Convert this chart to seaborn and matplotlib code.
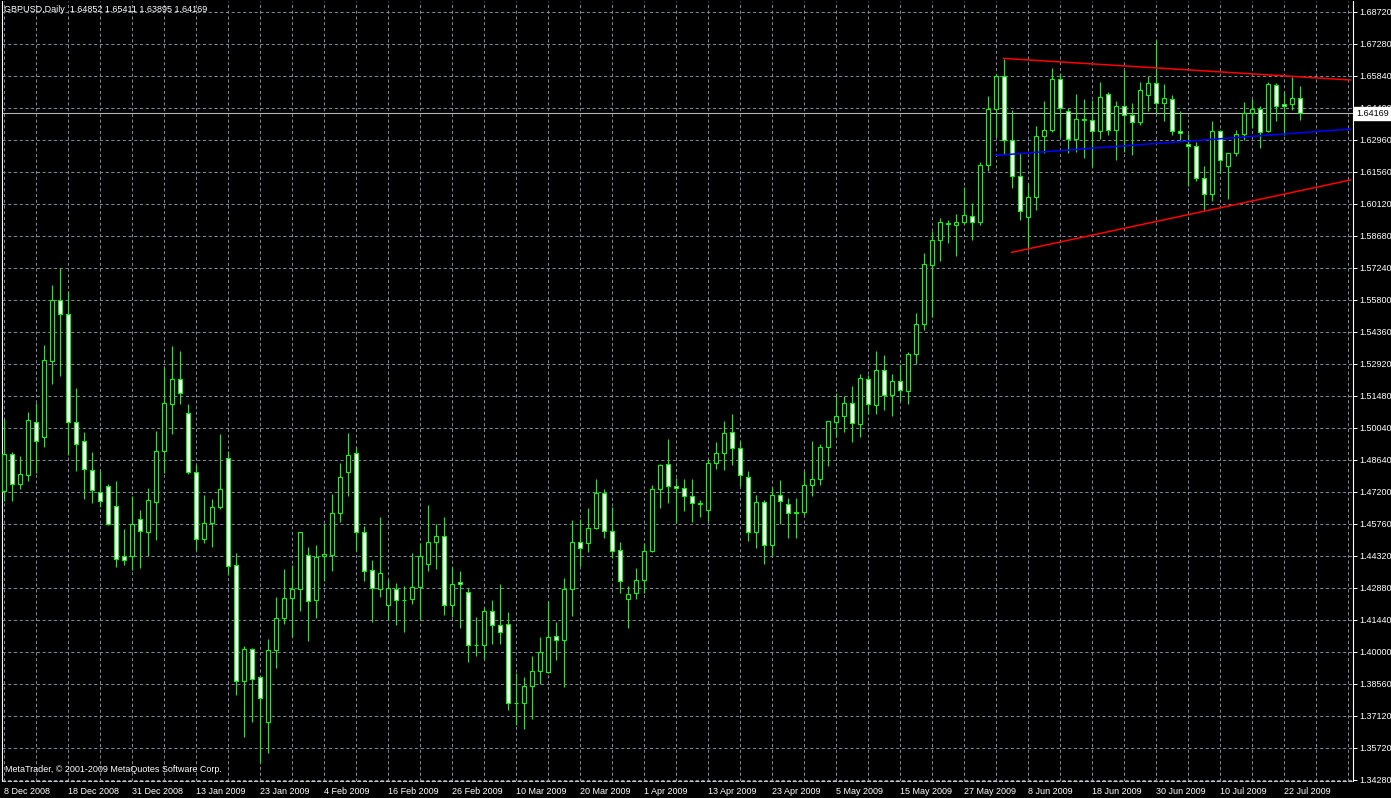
import matplotlib
matplotlib.use("Agg")
import matplotlib.pyplot as plt
import matplotlib.transforms as mtransforms
import numpy as np
import pandas as pd
import seaborn as sns

# GBPUSD daily candles, 8 Dec 2008 .. 24 Jul 2009
opens = [1.4722, 1.4890, 1.4755, 1.4796, 1.5033, 1.4966, 1.5307, 1.5581, 1.5518, 1.5033,
         1.4948, 1.4818, 1.4719, 1.4746, 1.4657, 1.4432, 1.4432, 1.4598, 1.4540, 1.4675,
         1.4903, 1.5114, 1.5226, 1.5072, 1.4809, 1.4509, 1.4579, 1.4651, 1.4872, 1.4392,
         1.3872, 1.4015, 1.3890, 1.3686, 1.4011, 1.4154, 1.4244, 1.4284, 1.4435, 1.4235,
         1.4432, 1.4435, 1.4625, 1.4808, 1.4894, 1.4540, 1.4370, 1.4284, 1.4213, 1.4284,
         1.4235, 1.4238, 1.4293, 1.4397, 1.4495, 1.4522, 1.4213, 1.4316, 1.4271, 1.4032,
         1.4032, 1.4186, 1.4123, 1.4128, 1.3773, 1.3773, 1.3849, 1.3917, 1.3912, 1.4074,
         1.4056, 1.4284, 1.4495, 1.4491, 1.4558, 1.4715, 1.4545, 1.4459, 1.4240, 1.4267,
         1.4325, 1.4455, 1.4733, 1.4845, 1.4746, 1.4737, 1.4702, 1.4664, 1.4637, 1.4849,
         1.4894, 1.4988, 1.4917, 1.4787, 1.4538, 1.4675, 1.4480, 1.4706, 1.4666, 1.4628,
         1.4630, 1.4751, 1.4778, 1.4921, 1.5033, 1.5060, 1.5118, 1.5024, 1.5226, 1.5110,
         1.5267, 1.5154, 1.5217, 1.5172, 1.5338, 1.5473, 1.5737, 1.5850, 1.5922, 1.5917,
         1.5931, 1.5958, 1.5931, 1.6186, 1.6438, 1.6586, 1.6298, 1.6137, 1.5953, 1.6043,
         1.6316, 1.6343, 1.6572, 1.6429, 1.6303, 1.6388, 1.6388, 1.6339, 1.6505, 1.6343,
         1.6451, 1.6411, 1.6379, 1.6500, 1.6554, 1.6464, 1.6482, 1.6339, 1.6281, 1.6272,
         1.6128, 1.6056, 1.6339, 1.6182, 1.6240, 1.6325, 1.6420, 1.6438, 1.6339, 1.6545,
         1.6460, 1.6460, 1.64852]
highs = [1.5047, 1.4900, 1.4882, 1.5080, 1.5120, 1.5380, 1.5649, 1.5724, 1.5619, 1.5187,
         1.4989, 1.4900, 1.4814, 1.4755, 1.4770, 1.4555, 1.4701, 1.4639, 1.4737, 1.4993,
         1.5280, 1.5374, 1.5352, 1.5114, 1.4842, 1.4706, 1.4690, 1.4981, 1.4905, 1.4446,
         1.4030, 1.4020, 1.3896, 1.4060, 1.4247, 1.4376, 1.4394, 1.4540, 1.4474, 1.4482,
         1.4576, 1.4709, 1.4848, 1.4986, 1.4920, 1.4567, 1.4416, 1.4607, 1.4329, 1.4311,
         1.4299, 1.4446, 1.4491, 1.4663, 1.4576, 1.4609, 1.4385, 1.4367, 1.4289, 1.4160,
         1.4202, 1.4237, 1.4308, 1.4183, 1.3908, 1.3891, 1.3984, 1.4071, 1.4231, 1.4138,
         1.4334, 1.4594, 1.4598, 1.4648, 1.4778, 1.4733, 1.4651, 1.4495, 1.4298, 1.4379,
         1.4491, 1.4751, 1.4845, 1.4957, 1.4782, 1.4778, 1.4778, 1.4683, 1.4867, 1.4945,
         1.5039, 1.5069, 1.4948, 1.4815, 1.4706, 1.4683, 1.4742, 1.4775, 1.4692, 1.4692,
         1.4814, 1.4948, 1.4935, 1.5038, 1.5163, 1.5150, 1.5195, 1.5249, 1.5244, 1.5352,
         1.5334, 1.5249, 1.5293, 1.5347, 1.5522, 1.5791, 1.5890, 1.5947, 1.5941, 1.5968,
         1.6089, 1.6016, 1.6200, 1.6496, 1.6594, 1.6662, 1.6433, 1.6240, 1.6106, 1.6361,
         1.6473, 1.6621, 1.6599, 1.6442, 1.6505, 1.6482, 1.6478, 1.6559, 1.6514, 1.6473,
         1.6612, 1.6466, 1.6560, 1.6586, 1.6747, 1.6547, 1.6500, 1.6429, 1.6325, 1.6290,
         1.6182, 1.6381, 1.6343, 1.6240, 1.6343, 1.6469, 1.6482, 1.6451, 1.6560, 1.6554,
         1.6511, 1.6581, 1.65411]
lows = [1.4678, 1.4678, 1.4731, 1.4770, 1.4803, 1.4920, 1.5202, 1.5238, 1.4884, 1.4812,
        1.4687, 1.4669, 1.4651, 1.4573, 1.4382, 1.4390, 1.4370, 1.4379, 1.4432, 1.4504,
        1.4803, 1.4980, 1.5113, 1.4800, 1.4459, 1.4489, 1.4471, 1.4643, 1.4349, 1.3811,
        1.3619, 1.3686, 1.3503, 1.3547, 1.3929, 1.4128, 1.4068, 1.4184, 1.4050, 1.4153,
        1.4319, 1.4364, 1.4586, 1.4700, 1.4453, 1.4319, 1.4135, 1.4250, 1.4145, 1.4122,
        1.4090, 1.4216, 1.4145, 1.4364, 1.4373, 1.4168, 1.4157, 1.4108, 1.3956, 1.3982,
        1.3971, 1.4036, 1.4036, 1.3742, 1.3675, 1.3657, 1.3701, 1.3858, 1.3910, 1.3966,
        1.3843, 1.4162, 1.4388, 1.4449, 1.4553, 1.4513, 1.4424, 1.4267, 1.4108, 1.4240,
        1.4267, 1.4450, 1.4648, 1.4669, 1.4580, 1.4634, 1.4585, 1.4609, 1.4588, 1.4821,
        1.4818, 1.4839, 1.4748, 1.4498, 1.4467, 1.4395, 1.4431, 1.4574, 1.4512, 1.4512,
        1.4616, 1.4701, 1.4751, 1.4836, 1.4966, 1.4988, 1.4944, 1.4966, 1.5069, 1.5069,
        1.5087, 1.5060, 1.5127, 1.5114, 1.5293, 1.5446, 1.5504, 1.5754, 1.5835, 1.5777,
        1.5922, 1.5850, 1.5916, 1.6158, 1.6310, 1.6236, 1.6082, 1.5938, 1.5805, 1.5985,
        1.6240, 1.6334, 1.6310, 1.6240, 1.6245, 1.6218, 1.6177, 1.6303, 1.6321, 1.6209,
        1.6245, 1.6230, 1.6364, 1.6429, 1.6417, 1.6384, 1.6321, 1.6298, 1.6091, 1.6113,
        1.5983, 1.6023, 1.6149, 1.6032, 1.6227, 1.6298, 1.6352, 1.6261, 1.6334, 1.6384,
        1.6321, 1.6433, 1.63895]
closes = [1.4890, 1.4755, 1.4800, 1.5042, 1.4948, 1.5311, 1.5581, 1.5518, 1.5033, 1.4935,
          1.4821, 1.4728, 1.4679, 1.4576, 1.4419, 1.4415, 1.4576, 1.4544, 1.4684, 1.4903,
          1.5119, 1.5226, 1.5163, 1.4809, 1.4509, 1.4579, 1.4652, 1.4733, 1.4388, 1.3872,
          1.4015, 1.3879, 1.3796, 1.4011, 1.4154, 1.4244, 1.4284, 1.4540, 1.4231, 1.4428,
          1.4441, 1.4625, 1.4787, 1.4885, 1.4540, 1.4365, 1.4289, 1.4356, 1.4289, 1.4235,
          1.4237, 1.4293, 1.4432, 1.4495, 1.4522, 1.4213, 1.4307, 1.4307, 1.4032, 1.4032,
          1.4186, 1.4122, 1.4090, 1.3773, 1.3775, 1.3849, 1.3917, 1.4002, 1.4069, 1.4056,
          1.4284, 1.4495, 1.4468, 1.4558, 1.4715, 1.4545, 1.4455, 1.4320, 1.4262, 1.4325,
          1.4455, 1.4733, 1.4841, 1.4746, 1.4737, 1.4702, 1.4670, 1.4672, 1.4849, 1.4894,
          1.4984, 1.4917, 1.4796, 1.4538, 1.4675, 1.4480, 1.4706, 1.4679, 1.4625, 1.4626,
          1.4751, 1.4778, 1.4921, 1.5038, 1.5060, 1.5118, 1.5029, 1.5231, 1.5114, 1.5267,
          1.5154, 1.5217, 1.5177, 1.5338, 1.5473, 1.5742, 1.5850, 1.5931, 1.5926, 1.5931,
          1.5962, 1.5931, 1.6186, 1.6438, 1.6586, 1.6298, 1.6137, 1.5980, 1.6043, 1.6316,
          1.6343, 1.6572, 1.6442, 1.6303, 1.6393, 1.6391, 1.6339, 1.6491, 1.6343, 1.6451,
          1.6411, 1.6379, 1.6523, 1.6554, 1.6464, 1.6487, 1.6339, 1.6330, 1.6272, 1.6128,
          1.6056, 1.6339, 1.6209, 1.6240, 1.6325, 1.6420, 1.6438, 1.6334, 1.6550, 1.6451,
          1.6451, 1.6487, 1.64169]

# x axis labels, one every 8 bars
date_labels = ["8 Dec 2008", "18 Dec 2008", "31 Dec 2008", "13 Jan 2009", "23 Jan 2009",
               "4 Feb 2009", "16 Feb 2009", "26 Feb 2009", "10 Mar 2009", "20 Mar 2009",
               "1 Apr 2009", "13 Apr 2009", "23 Apr 2009", "5 May 2009", "15 May 2009",
               "27 May 2009", "8 Jun 2009", "18 Jun 2009", "30 Jun 2009", "10 Jul 2009",
               "22 Jul 2009"]
# price scale labels, top to bottom
price_labels = ["1.68720", "1.67280", "1.65840", "1.64400", "1.62960", "1.61560", "1.60120",
                "1.58680", "1.57240", "1.55800", "1.54360", "1.52920", "1.51480", "1.50040",
                "1.48640", "1.47200", "1.45760", "1.44320", "1.42880", "1.41440", "1.40000",
                "1.38560", "1.37120", "1.35720", "1.34280"]

# trend lines drawn on the chart (bar index, price)
upper_bars = [125, 168.4]
upper_prices = [1.6664, 1.6567]
lower_bars = [126, 168.4]
lower_prices = [1.5794, 1.6119]
mid_bars = [124, 168.4]
mid_prices = [1.6229, 1.6347]
last_price = 1.64169

df = pd.DataFrame({"open": opens, "high": highs, "low": lows, "close": closes})
df["bar"] = np.arange(len(df))
df["bull"] = df["close"] >= df["open"]
df["body_low"] = df[["open", "close"]].min(axis=1)
df["body_h"] = (df["close"] - df["open"]).abs().clip(lower=0.00012)

sns.set_style("dark", rc={"axes.facecolor": "black", "figure.facecolor": "black",
                          "axes.edgecolor": "white", "text.color": "white",
                          "xtick.color": "white", "ytick.color": "white"})
plt.rcParams["font.family"] = ["Liberation Sans", "DejaVu Sans"]

W, H = 1391, 798
fig = plt.figure(figsize=(W / 100, H / 100), dpi=100, facecolor="black")
ax = fig.add_axes([2 / W, 17 / H, 1351 / W, 780 / H])

grid_kw = dict(color="#778899", lw=0.75, linestyle=(0, (3, 2.5)), zorder=0)
tick_vals = np.linspace(1.6872, 1.3428, 25)
for v in tick_vals:
    ax.axhline(v, **grid_kw)
for b in range(0, 172, 4):
    ax.axvline(b, **grid_kw)

# current price line
ax.axhline(last_price, color="#b4b4b4", lw=0.8, zorder=1)

# candles: wicks then bodies (bull = black body, bear = white body)
ax.vlines(df["bar"], df["low"], df["high"], color="#00ff00", lw=0.8, zorder=2)
ax.bar(df["bar"], df["body_h"], bottom=df["body_low"], width=0.5,
       color=np.where(df["bull"], "black", "white"), edgecolor="#00ff00",
       linewidth=0.8, zorder=3)

# trend lines
sns.lineplot(x=upper_bars, y=upper_prices, color="red", lw=1.1, ax=ax, zorder=4)
sns.lineplot(x=lower_bars, y=lower_prices, color="red", lw=1.1, ax=ax, zorder=4)
sns.lineplot(x=mid_bars, y=mid_prices, color="blue", lw=1.1, ax=ax, zorder=4)

ax.set_xlim(-0.2, 168.675)
ax.set_ylim(1.34235, 1.69213)

ax.set_xticks(np.arange(0, 8 * len(date_labels), 8))
ax.set_xticklabels(date_labels, ha="left", fontsize=6.5)
ax.set_yticks(tick_vals)
ax.set_yticklabels(price_labels, fontsize=6.5)
ax.yaxis.tick_right()
ax.tick_params(axis="both", length=3, width=0.75, color="white", labelcolor="white", pad=1.5)
ax.set_xlabel("")
ax.set_ylabel("")

for side in ["left", "right"]:
    ax.spines[side].set_color("white")
    ax.spines[side].set_linewidth(0.8)
ax.spines["top"].set_visible(False)
ax.spines["bottom"].set_color("#c8c8c8")
ax.spines["bottom"].set_linestyle((0, (3, 2.5)))
ax.spines["bottom"].set_linewidth(0.75)

# price tag on the right scale
trans = mtransforms.offset_copy(ax.get_yaxis_transform(), fig=fig, x=3, y=0, units="dots")
ax.text(1.0, last_price, "1.64169", transform=trans, ha="left", va="center",
        fontsize=6.5, color="black", zorder=10, clip_on=False,
        bbox=dict(boxstyle="square,pad=0.25", fc="white", ec="white"))

fig.text(4 / W, 1 - 10 / H, "GBPUSD,Daily  1.64852 1.65411 1.63895 1.64169",
         color="white", fontsize=6.5, va="center", ha="left")
fig.text(5 / W, 1 - 770 / H, "MetaTrader, \u00a9 2001-2009 MetaQuotes Software Corp.",
         color="white", fontsize=6.5, va="center", ha="left")

fig.savefig("out.png", dpi=100, facecolor="black")
